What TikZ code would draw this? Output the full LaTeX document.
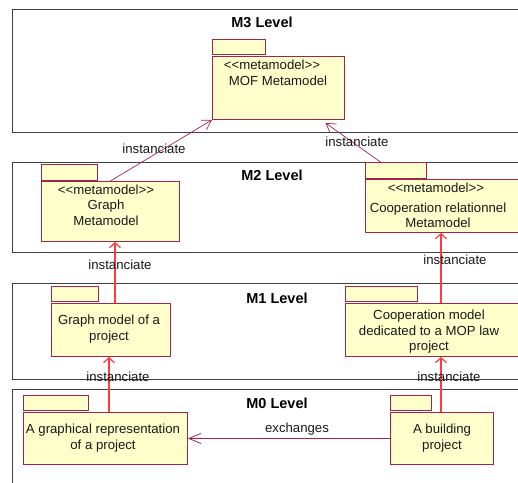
\documentclass[tikz,border=0pt]{standalone}
\usepackage{fontspec}
\setmainfont{Liberation Sans}
\usetikzlibrary{arrows.meta}
\definecolor{pkgfill}{HTML}{FFFFCC}
\definecolor{pkgline}{HTML}{A3244A}
\definecolor{redline}{HTML}{FF3B3B}
\definecolor{frameline}{HTML}{404040}
\newcommand{\stereo}{{<}{<}metamodel{>}{>}}
\begin{document}
\begin{tikzpicture}[x=1pt,y=-1pt,
 frame/.style={draw=frameline, line width=0.9pt, anchor=north west, inner sep=0},
 levtitle/.style={font=\fontsize{14.5}{16}\selectfont\bfseries, inner sep=0},
 pkg/.style={draw=pkgline, fill=pkgfill, line width=0.9pt, inner sep=0, anchor=north west},
 txt/.style={font=\fontsize{13.2}{15.5}\selectfont, align=center, inner sep=0, text=black!90},
 inst/.style={draw=pkgline, line width=0.7pt, -{Straight Barb[length=9pt,width=11pt]}},
 instred/.style={draw=redline, line width=1.2pt, -{Straight Barb[length=5pt,width=11pt]}},
 exch/.style={draw=pkgline, line width=0.8pt, -{Straight Barb[length=12pt,width=10pt]}},
]
\useasboundingbox (0,0) rectangle (518,482);
\clip (0,0) rectangle (518,482);
\fill[white] (0,0) rectangle (518,482);
% level frames
\node[frame, minimum width=520, minimum height=123] (m3) at (12,9) {};
\node[frame, minimum width=520, minimum height=90] (m2) at (12,162) {};
\node[frame, minimum width=520, minimum height=96] (m1) at (12,283) {};
\node[frame, minimum width=520, minimum height=110] (m0) at (12,389) {};
\node[levtitle] (t3) at (262,22) {M3 Level};
\node[levtitle] (t2) at (272,175) {M2 Level};
\node[levtitle] (t1) at (277,298) {M1 Level};
\node[levtitle] (t0) at (277,403) {M0 Level};
% M3
\node[pkg, minimum width=53, minimum height=15] (mofT) at (212,39) {};
\node[pkg, minimum width=132, minimum height=63] (mofB) at (212,56) {};
\node[txt] (mofS) at (272,65) {\stereo};
\node[txt] (mofN) at (278,81) {MOF Metamodel};
% M2
\node[pkg, minimum width=56, minimum height=16] (gmT) at (41,164) {};
\node[pkg, minimum width=138, minimum height=60] (gmB) at (41,181) {};
\node[txt] (gmN) at (106,205) {\stereo\\Graph\\Metamodel};
\node[pkg, minimum width=61, minimum height=16] (crT) at (365,162) {};
\node[pkg, minimum width=170, minimum height=53] (crB) at (365,179) {};
\node[txt] (crS) at (436,188) {\stereo};
\node[txt] (crN) at (438,215.5) {Cooperation relationnel\\Metamodel};
% M1
\node[pkg, minimum width=47, minimum height=15] (gmodT) at (51,286) {};
\node[pkg, minimum width=119, minimum height=53] (gmodB) at (51,303) {};
\node[txt] (gmodN) at (109,329) {Graph model of a\\project};
\node[pkg, minimum width=72, minimum height=15] (cmT) at (345,286) {};
\node[pkg, minimum width=180, minimum height=53] (cmB) at (345,303) {};
\node[txt] (cmN) at (429,332) {Cooperation model\\dedicated to a MOP law\\project};
% M0
\node[pkg, minimum width=65, minimum height=15] (grT) at (23,395) {};
\node[pkg, minimum width=164, minimum height=52] (grB) at (23,412) {};
\node[txt] (grN) at (103,438) {A graphical representation\\of a project};
\node[pkg, minimum width=41, minimum height=15] (bpT) at (390,395) {};
\node[pkg, minimum width=103, minimum height=52] (bpB) at (390,412) {};
\node[txt] (bpN) at (442,438) {A building\\project};
% connectors
\coordinate (xa) at (115,0);
\coordinate (xb) at (441,0);
\coordinate (xc) at (109,0);
\draw[inst] (gmB.north) -- (mofB.south west);
\draw[inst] ([xshift=-15.5pt]crT.north) -- ([xshift=47pt,yshift=-3pt]mofB.south);
\draw[instred] (gmodB.north -| xa) -- (gmB.south -| xa);
\draw[instred] (cmB.north -| xb) -- (crB.south -| xb);
\draw[instred] (grB.north -| xc) -- (gmodB.south -| xc);
\draw[instred] (bpB.north -| xb) -- (cmB.south -| xb);
\draw[exch] (bpB.west) -- (grB.east);
% labels
\node[txt] (l1) at (154,149) {instanciate};
\node[txt] (l2) at (357,142) {instanciate};
\node[txt] (l3) at (120,265) {instanciate};
\node[txt] (l4) at (455,260) {instanciate};
\node[txt] (l5) at (118,377) {instanciate};
\node[txt] (l6) at (449,377) {instanciate};
\node[txt] (l7) at (297,429) {exchanges};
\end{tikzpicture}
\end{document}
